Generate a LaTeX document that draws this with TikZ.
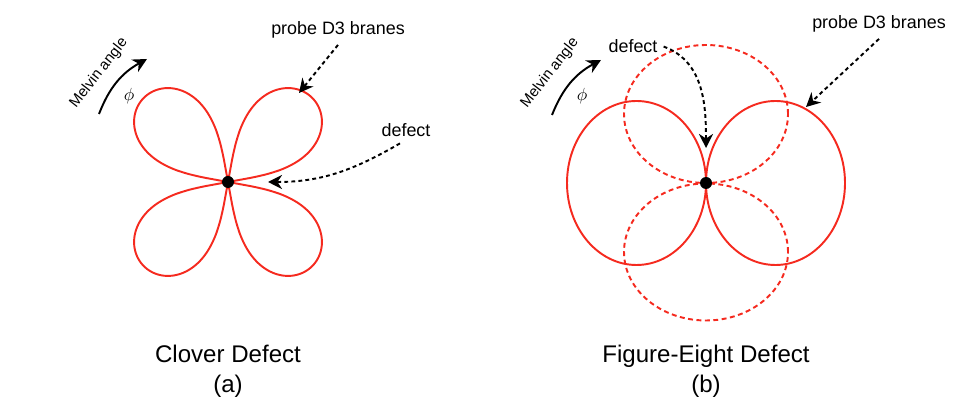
\documentclass[tikz,border=0pt]{standalone}
\usepackage{fontspec}
\setmainfont{Liberation Sans}
\usetikzlibrary{arrows.meta}
\definecolor{lobered}{HTML}{F52A1F}

\begin{document}
\begin{tikzpicture}[x=0.02cm,y=0.02cm,
  lobe/.style={draw=lobered,line width=1.1pt},
  ghost/.style={lobe,dash pattern=on 2.8pt off 2pt},
  pt/.style={circle,fill=black,inner sep=0pt,minimum size=0.24cm},
  lbl/.style={font=\fontsize{10.2}{12}\selectfont,anchor=base},
  ang/.style={font=\fontsize{8.5}{10}\selectfont,rotate=52},
  captxt/.style={font=\fontsize{13.7}{16}\selectfont,anchor=base},
  da/.style={-{Stealth[length=8pt,width=8pt]},line width=1.1pt,dash pattern=on 2.2pt off 1.8pt},
  sa/.style={-{Stealth[length=8pt,width=8pt]},line width=1.1pt}]
\useasboundingbox (0,0) rectangle (969,-404);
\foreach \r in {0,90,180,270}
  \draw[lobe,shift={(228,-182)},rotate=\r] (0,0) -- plot[domain=10.001:79.999,samples=200]
    (\x:{119*sin(180*(\x-10)/70)^0.4}) -- cycle;
\draw[lobe] (636.5,-183) ellipse [x radius=69.5,y radius=82];
\draw[lobe] (775.5,-183) ellipse [x radius=69.5,y radius=82];
\draw[ghost] (706,-114) ellipse [x radius=82,y radius=69];
\draw[ghost] (706,-252) ellipse [x radius=82,y radius=68.5];
\node[pt] (cA) at (228,-182) {};
\node[pt] (cB) at (706,-183) {};
\node[lbl] (probeA) at (338,-35) {probe D3 branes};
\node[lbl] (probeB) at (879,-29) {probe D3 branes};
\node[lbl] (defA) at (406,-137) {defect};
\node[lbl] (defB) at (633,-53) {defect};
\node[ang] (melA) at (99,-73) {Melvin angle};
\node[ang] (melB) at (550,-73) {Melvin angle};
\node (phiA) at (129,-96) {$\phi$};
\node (phiB) at (582,-96) {$\phi$};
\coordinate (pA) at (299,-93);
\coordinate (dA) at (268,-182);
\coordinate (pB) at (806,-107);
\coordinate (dB) at (706,-148);
\coordinate (mA1) at (99,-114); \coordinate (mA2) at (147,-59);
\coordinate (mB1) at (552,-115); \coordinate (mB2) at (601,-60);
\draw[da] (probeA.south) -- (pA);
\draw[da] (probeB.south) -- (pB);
\draw[da] ([xshift=-0.12cm]defA.south) to[out=210,in=0] (dA);
\draw[da] (defB.east) to[out=-20,in=90] (dB);
\draw[sa] (mA1) to[bend left=20] (mA2);
\draw[sa] (mB1) to[bend left=20] (mB2);
\node[captxt] (capA) at (228,-363) {Clover Defect};
\node[captxt] (subA) at (228,-393) {(a)};
\node[captxt] (capB) at (706,-363) {Figure-Eight Defect};
\node[captxt] (subB) at (706,-393) {(b)};
\end{tikzpicture}
\end{document}
